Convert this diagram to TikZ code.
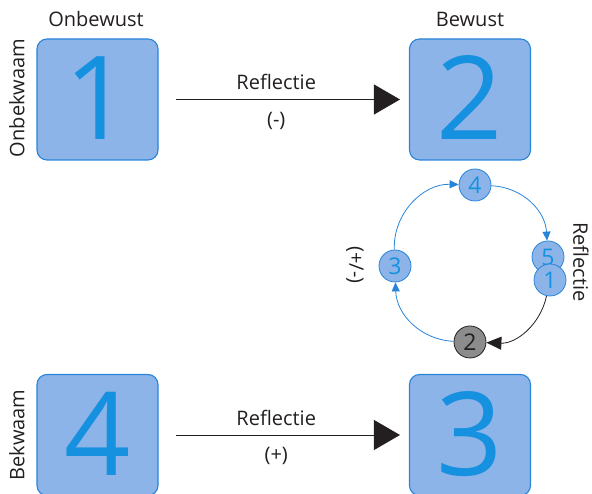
\documentclass[tikz,border=0pt]{standalone}
\usepackage{fontspec}
\setmainfont{Open Sans}
\usetikzlibrary{arrows.meta}
\definecolor{boxfill}{HTML}{8DB4E8}
\definecolor{boxline}{HTML}{2784D9}
\definecolor{digit}{HTML}{1591E0}
\definecolor{ink}{HTML}{231F20}
\definecolor{stepgray}{HTML}{8C8C8C}
\begin{document}
\begin{tikzpicture}[x=1pt,y=1pt,
  bigbox/.style={draw=boxline, fill=boxfill, line width=1.1pt, rounded corners=10pt,
    minimum width=121pt, minimum height=121pt, inner sep=0pt, text=digit,
    font=\fontsize{116}{116}\selectfont},
  stage/.style={circle, draw=boxline, fill=boxfill, line width=0.8pt,
    minimum size=32pt, inner sep=0pt, text=digit, font=\fontsize{23}{23}\selectfont},
  greystage/.style={stage, draw=ink, fill=stepgray, text=ink},
  lbl/.style={text=ink, font=\fontsize{20}{24}\selectfont, inner sep=0pt},
  bigarrow/.style={draw=ink, line width=0.8pt, -{Triangle[length=26pt,width=30pt]}},
  cyclearrow/.style={draw=boxline, line width=0.8pt, -{Triangle[length=9pt,width=8pt]}},
  blackarrow/.style={draw=ink, line width=0.8pt, -{Triangle[length=15pt,width=13pt]}}
]
\useasboundingbox (0,0) rectangle (592,494);

% the four quadrants
\node[bigbox] (b1) at (97.5,394.5) {\raisebox{3pt}{1}};
\node[bigbox] (b2) at (470,394.5) {\raisebox{3pt}{2}};
\node[bigbox] (b4) at (97.5,59) {\raisebox{3pt}{4}};
\node[bigbox] (b3) at (470,59) {\raisebox{3pt}{3}};

% axis labels
\node[lbl] (lonbewust) at (96,475) {Onbewust};
\node[lbl] (lbewust) at (470,475) {Bewust};
\node[lbl, rotate=90] (lonbekwaam) at (17,396) {Onbekwaam};
\node[lbl, rotate=90] (lbekwaam) at (17,59) {Bekwaam};

% reflection arrows between the quadrants
\draw[bigarrow, shorten <=17pt, shorten >=9pt] (b1) -- (b2)
  node[lbl, pos=0.47, above=9pt] (r1) {Reflectie}
  node[lbl, pos=0.47, below=12pt] (m1) {(-)};
\draw[bigarrow, shorten <=17pt, shorten >=9pt] (b4) -- (b3)
  node[lbl, pos=0.47, above=9pt] (r2) {Reflectie}
  node[lbl, pos=0.47, below=12pt] (m2) {(+)};

% the reflection cycle
\node[stage] (c4) at (475,309) {4};
\node[stage] (c3) at (395,228) {3};
\node[greystage] (c2) at (470,152) {2};
\node[stage] (c5) at (548,237) {5};
\node[stage] (c1) at (550,214) {1};

\draw[cyclearrow] (c4) to[bend left=42] (c5);
\draw[blackarrow] (c1) to[bend left=40] (c2);
\draw[cyclearrow] (c2) to[bend left=43] (c3);
\draw[cyclearrow] (c3) to[bend left=47] (c4);

\node[lbl, rotate=-90] (lcycle) at (355,229) {(+/-)};
\node[lbl, rotate=-90] (lrefl) at (581,232) {Reflectie};
\end{tikzpicture}
\end{document}
